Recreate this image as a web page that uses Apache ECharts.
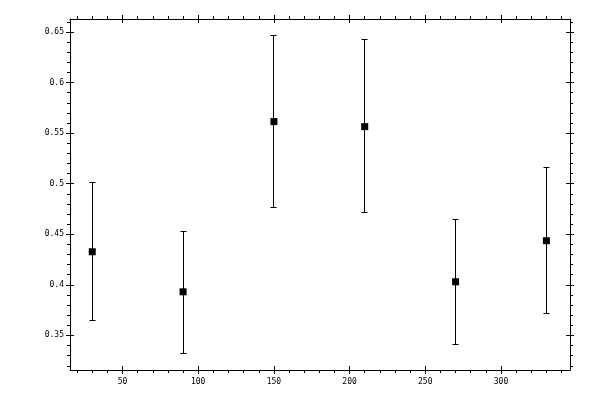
<!DOCTYPE html>
<html>
<head>
<meta charset="utf-8">
<script src="https://cdn.jsdelivr.net/npm/echarts@6/dist/echarts.min.js"></script>
<style>html,body{margin:0;padding:0;background:#fff}#c{width:600px;height:400px}</style>
</head>
<body>
<div id="c"></div>
<script>
const xValues = [30, 90, 150, 210, 270, 330];
const yValues = [0.4327, 0.3931, 0.5614, 0.5564, 0.4030, 0.4436];
const yLow    = [0.3644, 0.3317, 0.4762, 0.4713, 0.3406, 0.3713];
const yHigh   = [0.5010, 0.4531, 0.6465, 0.6422, 0.4650, 0.5158];

const xMajorTicks = [50, 100, 150, 200, 250, 300];
const xMinorTicks = [20, 30, 40, 60, 70, 80, 90, 110, 120, 130, 140, 160, 170, 180, 190, 210, 220, 230, 240, 260, 270, 280, 290, 310, 320, 330, 340];
const yMajorTicks = [0.35, 0.4, 0.45, 0.5, 0.55, 0.6, 0.65];
const yMinorTicks = [0.32, 0.33, 0.34, 0.36, 0.37, 0.38, 0.39, 0.41, 0.42, 0.43, 0.44, 0.46, 0.47, 0.48, 0.49, 0.51, 0.52, 0.53, 0.54, 0.56, 0.57, 0.58, 0.59, 0.61, 0.62, 0.63, 0.64, 0.66];

const xRange = [15.3, 345.6];
const yRange = [0.3158, 0.6628];

const FONT = 'DejaVu Sans Mono';

function mkAxis(pos, range, ticks, len, inside, showLine, labels, labelMargin) {
  return {
    type: 'value', gridIndex: 0, position: pos,
    min: range[0], max: range[1],
    splitLine: { show: false },
    axisLine: { show: showLine, onZero: false, lineStyle: { color: '#000', width: 1 } },
    axisTick: { show: true, inside: inside, length: len, customValues: ticks, lineStyle: { color: '#000', width: 1 } },
    axisLabel: labels ? { show: true, customValues: ticks, color: '#000', fontFamily: FONT, fontSize: 8, margin: labelMargin } : { show: false },
    silent: true
  };
}

const xAxes = [
  mkAxis('bottom', xRange, xMajorTicks, 4, false, true, true, 8),
  mkAxis('bottom', xRange, xMajorTicks, 4, true, false, false),
  mkAxis('bottom', xRange, xMinorTicks, 3, false, false, false),
  mkAxis('top', xRange, xMajorTicks, 4, false, true, false),
  mkAxis('top', xRange, xMajorTicks, 4, true, false, false),
  mkAxis('top', xRange, xMinorTicks, 3, false, false, false)
];
const yAxes = [
  mkAxis('left', yRange, yMajorTicks, 4, false, true, true, 6),
  mkAxis('left', yRange, yMajorTicks, 4, true, false, false),
  mkAxis('left', yRange, yMinorTicks, 3, false, false, false),
  mkAxis('right', yRange, yMajorTicks, 4, false, true, false),
  mkAxis('right', yRange, yMajorTicks, 4, true, false, false),
  mkAxis('right', yRange, yMinorTicks, 3, false, false, false)
];

const errData = xValues.map((x, i) => [x, yLow[i], yHigh[i]]);
const ptData = xValues.map((x, i) => [x, yValues[i]]);

const crisp = v => Math.round(v - 0.5) + 0.5;

const chart = echarts.init(document.getElementById('c'), null, { renderer: 'canvas' });
chart.setOption({
  animation: false,
  backgroundColor: '#fff',
  grid: { left: 70, right: 30, top: 19, bottom: 30, containLabel: false },
  xAxis: xAxes,
  yAxis: yAxes,
  series: [
    {
      type: 'custom', xAxisIndex: 0, yAxisIndex: 0,
      data: errData,
      renderItem: function (params, api) {
        const x = api.value(0);
        const lo = api.coord([x, api.value(1)]);
        const hi = api.coord([x, api.value(2)]);
        const cx = crisp(lo[0]);
        const yl = crisp(lo[1]);
        const yh = crisp(hi[1]);
        const w = 3;
        const st = { stroke: '#000', lineWidth: 1 };
        return {
          type: 'group',
          children: [
            { type: 'line', shape: { x1: cx, y1: yl, x2: cx, y2: yh }, style: st },
            { type: 'line', shape: { x1: cx - w, y1: yl, x2: cx + w, y2: yl }, style: st },
            { type: 'line', shape: { x1: cx - w, y1: yh, x2: cx + w, y2: yh }, style: st }
          ]
        };
      },
      z: 2
    },
    {
      type: 'scatter', xAxisIndex: 0, yAxisIndex: 0,
      data: ptData,
      symbol: 'rect', symbolSize: 7,
      itemStyle: { color: '#000', opacity: 1 },
      z: 3
    }
  ]
});
</script>
</body>
</html>
